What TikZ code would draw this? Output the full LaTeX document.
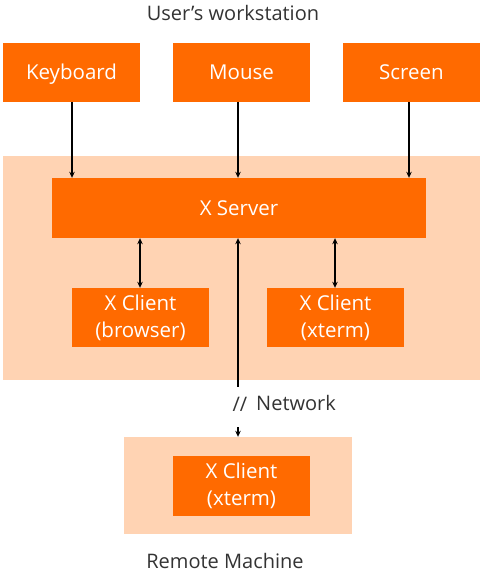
\documentclass[tikz,border=0pt]{standalone}
\usepackage{fontspec}
\setmainfont{Open Sans}
\usetikzlibrary{arrows.meta}
\definecolor{orng}{HTML}{FF6A00}
\definecolor{lite}{HTML}{FFD3B3}
\definecolor{ink}{HTML}{333333}
\begin{document}
\begin{tikzpicture}[x=1pt,y=-1pt,
  box/.style={fill=orng,draw=none,text=white,font=\fontsize{20.5}{27}\selectfont,align=center,inner sep=0pt},
  one/.style={text height=17pt,text depth=3pt},
  bg/.style={fill=lite,draw=none,inner sep=0pt},
  lbl/.style={text=ink,font=\fontsize{20}{24}\selectfont,inner sep=0pt,text height=17pt,text depth=3pt},
  conn/.style={line width=1.3pt,black,-{Stealth[length=6pt,width=5.5pt]}},
  dconn/.style={line width=1.3pt,black,{Stealth[length=6pt,width=5.5pt]}-{Stealth[length=6pt,width=5.5pt]}}]
\useasboundingbox (0,0) rectangle (484,575);
% backgrounds
\node[bg,minimum width=477pt,minimum height=224pt] (ws) at (241.5,268) {};
\node[bg,minimum width=228pt,minimum height=97pt] (rm) at (238,485.5) {};
% labels
\node[lbl] (title) at (233,14) {User’s workstation};
\node[lbl] (rtitle) at (225,561) {Remote Machine};
% top boxes
\node[box,one,minimum width=137pt,minimum height=59pt] (kb) at (71.5,72.5) {Keyboard};
\node[box,one,minimum width=137pt,minimum height=59pt] (ms) at (241.5,72.5) {Mouse};
\node[box,one,minimum width=137pt,minimum height=59pt] (sc) at (411.5,72.5) {Screen};
% X server
\node[box,one,minimum width=374pt,minimum height=60pt] (xs) at (239,208) {X Server};
% clients
\node[box,minimum width=137pt,minimum height=59pt] (cb) at (140.5,317.5) {X Client\\(browser)};
\node[box,minimum width=137pt,minimum height=59pt] (cx) at (335.5,317.5) {X Client\\(xterm)};
\node[box,minimum width=137pt,minimum height=60pt] (cr) at (241.5,486) {X Client\\(xterm)};
% connectors
\draw[conn] (kb.south -| 72,0) -- (xs.north -| 72,0);
\draw[conn] (ms.south -| 238,0) -- (xs.north -| 238,0);
\draw[conn] (sc.south -| 409,0) -- (xs.north -| 409,0);
\draw[dconn] (xs.south -| 140,0) -- (cb.north -| 140,0);
\draw[dconn] (xs.south -| 335,0) -- (cx.north -| 335,0);
\coordinate (nt) at (238,387);
\coordinate (nb) at (238,427);
\draw[line width=1.3pt,black,{Stealth[length=6pt,width=5.5pt]}-] (xs.south -| nt) -- (nt);
\draw[conn] (nb) -- (rm.north -| nb);
\node[lbl] (sl) at (240,404) {//};
\node[lbl,anchor=west] (net) at (256,403) {Network};
\end{tikzpicture}
\end{document}
